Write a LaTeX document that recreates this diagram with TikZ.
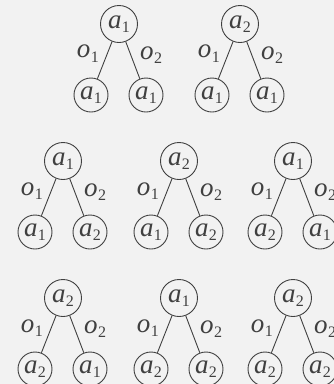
\documentclass[tikz,border=0pt]{standalone}
\usepackage{fontspec}
\setmainfont{Liberation Serif}
\definecolor{bgc}{HTML}{F2F2F2}
\definecolor{ink}{HTML}{404040}
\newcommand{\sym}[2]{\textit{#1}\kern0.3pt\raisebox{-4.5pt}{\fontsize{16}{16}\selectfont #2}}
\tikzset{
  st/.style={circle, draw=ink, line width=0.9pt, inner sep=0pt, text=ink, font=\fontsize{27}{29}\selectfont},
  rootst/.style={st, minimum size=37pt},
  leafst/.style={st, minimum size=34pt},
  edge/.style={draw=ink, line width=0.9pt},
  lbl/.style={text=ink, font=\fontsize{27}{29}\selectfont, inner sep=0pt}
}
\newcommand{\mytree}[6]{%
  \node[rootst] (#1r) at (#2,#3) {\sym{a}{#4}};
  \node[leafst] (#1l) at ({#2-28},{#3+71}) {\sym{a}{#5}};
  \node[leafst] (#1q) at ({#2+27},{#3+71}) {\sym{a}{#6}};
  \draw[edge] (#1r) -- node[lbl, pos=0.33, left=8pt] {\sym{o}{1}} (#1l);
  \draw[edge] (#1r) -- node[lbl, pos=0.36, right=9pt] {\sym{o}{2}} (#1q);
}
\begin{document}
\begin{tikzpicture}[x=1pt,y=-1pt]
\fill[bgc] (0,0) rectangle (334,384);
\useasboundingbox (0,0) rectangle (334,384);
\mytree{ta}{119}{24}{1}{1}{1}
\mytree{tb}{240}{24}{2}{1}{1}
\mytree{tc}{63}{161}{1}{1}{2}
\mytree{td}{179}{161}{2}{1}{2}
\mytree{te}{293}{161}{1}{2}{1}
\mytree{tf}{63}{298}{2}{2}{1}
\mytree{tg}{179}{298}{1}{2}{2}
\mytree{th}{293}{298}{2}{2}{2}
\end{tikzpicture}
\end{document}
